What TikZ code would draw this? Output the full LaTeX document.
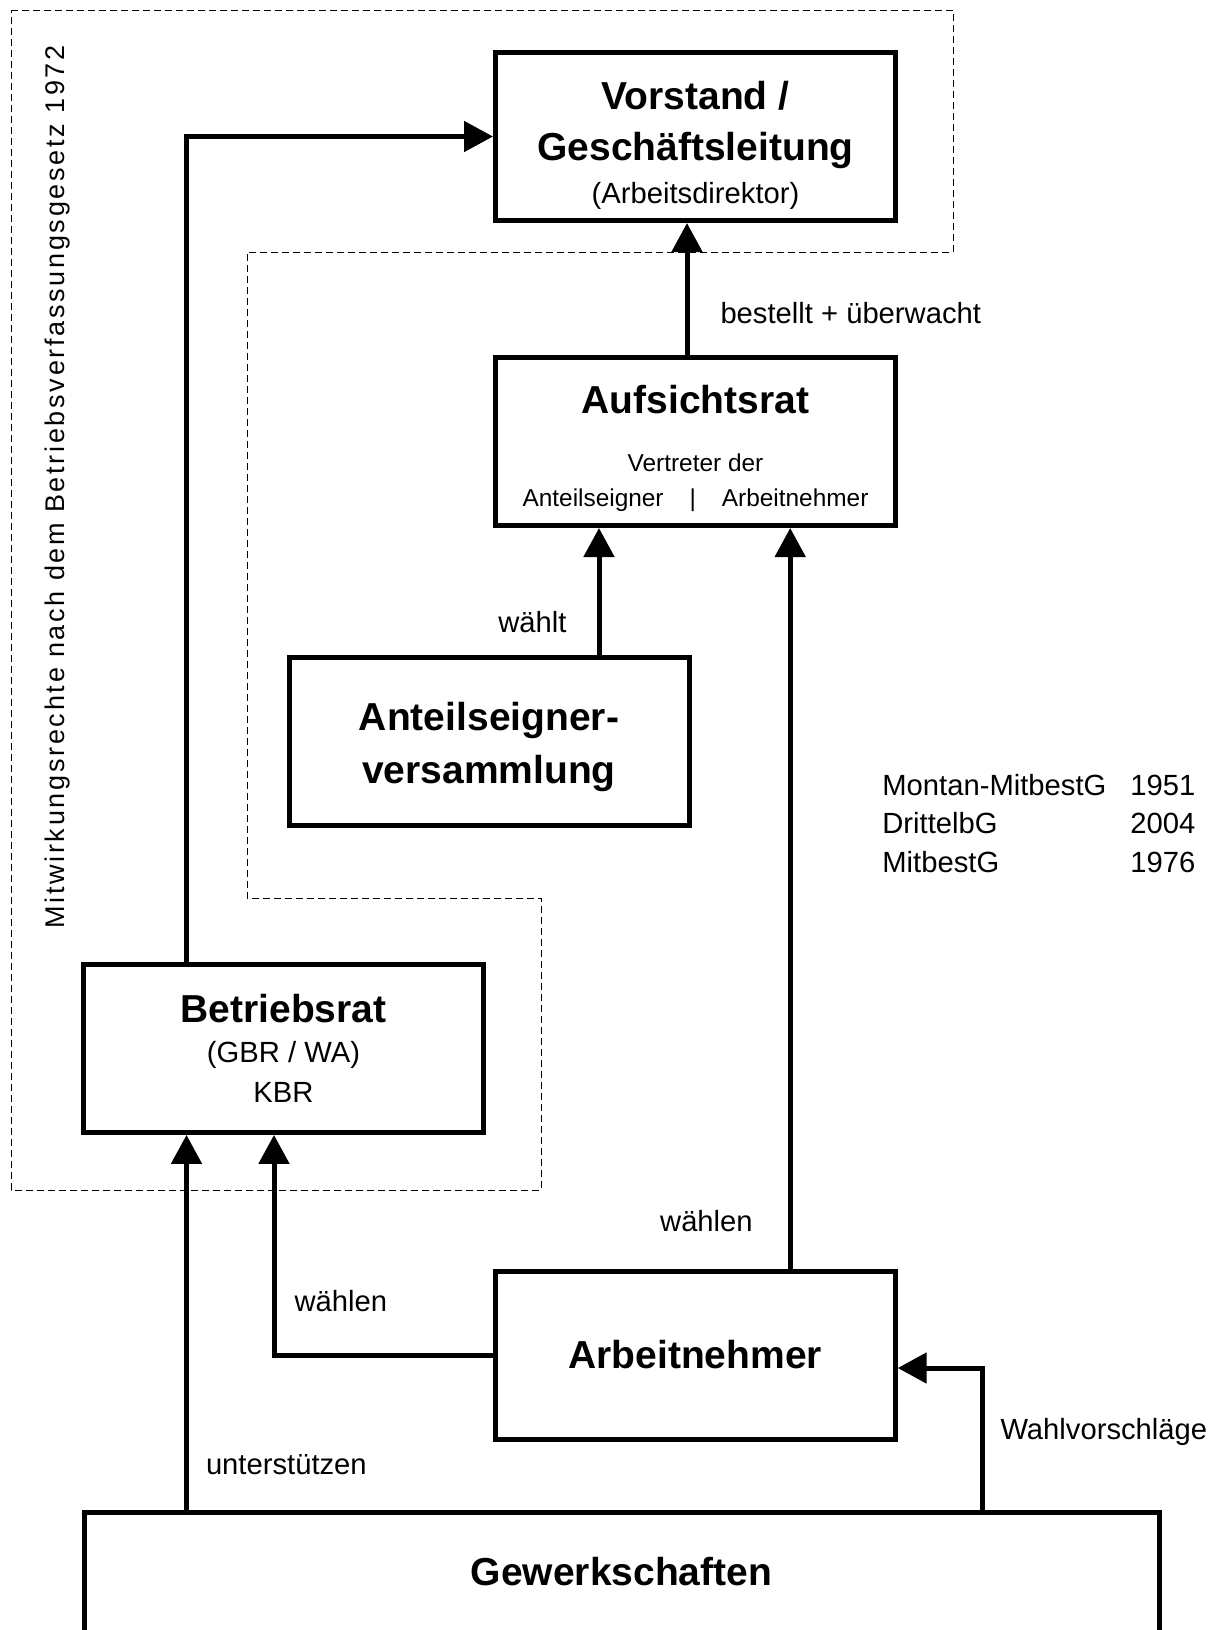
\documentclass[tikz,border=0pt]{standalone}
\usepackage{fontspec}
\setmainfont{Liberation Sans}
\newfontfamily\sidefamily[LetterSpace=10]{Liberation Sans}
\usepackage{tikz}
\usetikzlibrary{arrows.meta, positioning}
\newcommand{\boxtitle}{\fontsize{19.5}{20}\selectfont\bfseries}
\newcommand{\boxtext}{\fontsize{14.6}{20}\selectfont\mdseries}
\newcommand{\boxsmall}{\fontsize{12.2}{20}\selectfont\mdseries}
\newcommand{\lblfont}{\fontsize{14.6}{19.4}\selectfont}
\tikzset{
    box/.style={rectangle, draw, line width=2.5pt, minimum width=200pt, minimum height=84pt, inner sep=0pt, align=center, font=\boxtitle},
    flow/.style={-{Triangle[length=14.5pt, width=15pt]}, line width=2.5pt},
    lbl/.style={inner sep=0pt, font=\lblfont},
    sidelbl/.style={inner sep=0pt, font=\sidefamily\fontsize{13.5}{16}\selectfont},
    region/.style={dash pattern=on 3.5pt off 2pt, line width=0.5pt}
}
\begin{document}
\begin{tikzpicture}[x=0.5pt, y=-0.5pt]
    \useasboundingbox (0,0) rectangle (1217,1630);

    % Betriebsverfassung region
    \draw[region] (11,10) -- (953,10) -- (953,252) -- (247,252) -- (247,898) -- (541,898) -- (541,1190) -- (11,1190) -- cycle;
    \node[sidelbl, rotate=90, anchor=base] (bvg) at (64,487) {Mitwirkungsrechte nach dem Betriebsverfassungsgesetz 1972};

    % Organs
    \node[box] (vorstand) at (695.5,136.5) {\rule{0pt}{23.2pt}Vorstand /\\[5.6pt] Geschäftsleitung\\[1.4pt] \boxtext (Arbeitsdirektor)};
    \node[box, below=66pt of vorstand] (aufsicht) {\rule{0pt}{21pt}Aufsichtsrat\\[9.35pt] \boxsmall Vertreter der\\[-2.5pt] \boxsmall Anteilseigner\hspace{13pt}|\hspace{13pt}Arbeitnehmer};
    \node[box] (anteil) at (489,741.2) {\rule{0pt}{19.6pt}Anteilseigner-\\[6.5pt] versammlung};
    \node[box] (betriebsrat) at (283.5,1048.4) {Betriebsrat\\ \boxtext (GBR / WA)\\ \boxtext KBR};
    \node[box] (arbeitnehmer) at (695.2,1355) {Arbeitnehmer};
    \node[box, minimum width=537.5pt, minimum height=70pt, anchor=north] (gewerk) at (621.5,1509.5) {Gewerkschaften\rule[-10.5pt]{0pt}{10.5pt}};

    % Laws
    \node[lbl, anchor=base west] (gesetze) at (882,795) {\begin{tabular}[t]{@{}l@{\hspace{12pt}}r@{}}
        Montan-MitbestG & 1951\\
        DrittelbG & 2004\\
        MitbestG & 1976
    \end{tabular}};

    % Connections
    \coordinate (a1) at ([xshift=-4.25pt]aufsicht.north);
    \coordinate (w1) at ([xshift=55pt]anteil.north);
    \coordinate (w2) at ([xshift=47.5pt]arbeitnehmer.north);
    \coordinate (b1) at ([xshift=-48.5pt]betriebsrat.north);
    \coordinate (g1) at (b1 |- gewerk.north);
    \coordinate (g2) at ([xshift=180.25pt]gewerk.north);

    \draw[flow] (a1) -- (a1 |- vorstand.south) node[lbl, pos=.236, anchor=base west, xshift=15.5pt] {bestellt + überwacht};
    \draw[flow] (w1) -- (w1 |- aufsicht.south) node[lbl, pos=.175, anchor=base east, xshift=-15pt] {wählt};
    \draw[flow] (w2) -- (w2 |- aufsicht.south) node[lbl, pos=.05, anchor=base east, xshift=-17.5pt] {wählen};
    \draw[flow] (b1) |- (vorstand.west);
    \draw[flow] (g1) -- (g1 |- betriebsrat.south) node[lbl, pos=.093, anchor=base west, xshift=8.5pt] {unterstützen};
    \draw[flow] (arbeitnehmer.west) -| ([xshift=-4.75pt]betriebsrat.south) node[lbl, pos=.599, anchor=base west, xshift=9pt] {wählen};
    \draw[flow] (g2) |- ([yshift=-6.5pt]arbeitnehmer.east) node[lbl, pos=.246, anchor=base west, xshift=8pt] {Wahlvorschläge};
\end{tikzpicture}
\end{document}
